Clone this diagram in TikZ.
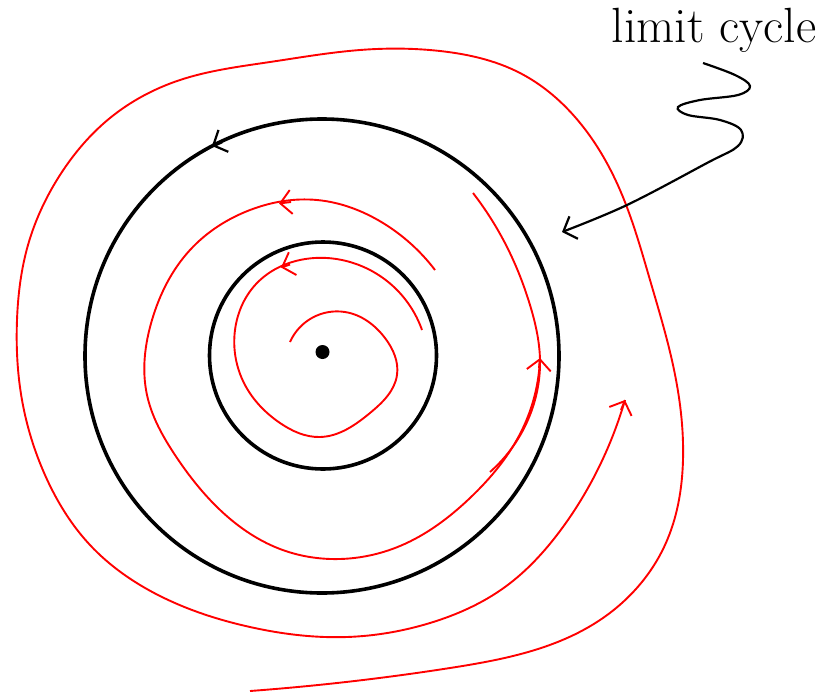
\documentclass[tikz,border=0pt]{standalone}
\usetikzlibrary{arrows.meta,hobby}
\begin{document}
\begin{tikzpicture}[x=1pt,y=-1pt,
  orbit/.style={red,line width=1.9pt,line join=round,use Hobby shortcut},
  cyc/.style={black,line width=3.6pt},
  rtip/.style={red,line width=1.9pt,-{Straight Barb[length=11pt,width=24pt]}},
  btip/.style={-{Straight Barb[length=11pt,width=24pt,line width=2.2pt]}}]
\useasboundingbox (0,0) rectangle (821,693);
% limit cycles
\draw[cyc] (322,356) circle[radius=237];
\draw[cyc] (323,355.5) circle[radius=113.5];
\fill (322.5,352) circle[radius=7];
% arrow on outer cycle
\draw[btip,line width=3.6pt] (222,141.5) -- (212,146);
% inner spiral
\draw[orbit] (422,330) .. (395,288) .. (350,262) .. (300,260) .. (258,282) .. (235,330) .. (245,385) .. (280,423) .. (320,437) .. (370,413) .. (397,375) .. (385,338) .. (345,312) .. (290,342);
\draw[rtip] (290,264.5) -- (281,267.5);
% second spiral
\draw[orbit] (435,270) .. (383,223) .. (317,200) .. (250,210) .. (190,250) .. (152,320) .. (147,395) .. (175,455) .. (217,507) .. (280,549) .. (340,559) .. (400,546) .. (470,498) .. (522,430) .. (540,358);
\draw[rtip] (539,368) -- (540,358);
\draw[rtip] (291,202) -- (279,203.5);
% curve A
\draw[orbit] (473,193) .. (507,247) .. (530,305) .. (540,360) .. (530,415) .. (490,472);
% big outer orbit
\draw[orbit] (250,691) .. (450,668) .. (600,620) .. (665,545) .. (683,460) .. (673,365) .. (650,280) .. (620,190) .. (575,117) .. (520,73) .. (440,51) .. (360,50) .. (270,62) .. (180,80) .. (110,118) .. (60,175) .. (28,245) .. (17,320) .. (22,400) .. (45,475) .. (90,545) .. (160,596) .. (250,627) .. (347,637) .. (430,623) .. (505,587) .. (560,531) .. (600,465) .. (625,400);
\draw[rtip] (621,410) -- (625,400);
% label and pointer
\node[anchor=base,inner sep=0pt,font=\fontsize{49.5}{54}\selectfont] (lbl) at (714,42) {limit cycle};
\draw[line width=2.2pt,btip] plot[smooth,tension=0.6] coordinates {(703,63) (735,75) (750,86) (738,95) (700,100) (678,107) (688,115) (720,120) (741,130) (738,146) (707,163) (627,205) (562,232)};
\end{tikzpicture}
\end{document}
